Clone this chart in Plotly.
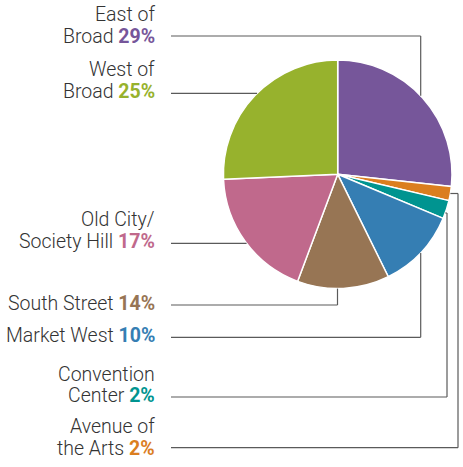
import math
import plotly.graph_objects as go

# ---- data ----
regions = ["East of Broad", "Avenue of the Arts", "Convention Center", "Market West",
           "South Street", "Old City/Society Hill", "West of Broad"]
label_pct = [29, 2, 2, 10, 14, 17, 25]                 # percentages printed in labels
slice_values = [26.7, 2.0, 2.6, 11.4, 13.0, 18.6, 25.7]  # slice sizes as drawn
label_lines = [["East of", "Broad"], ["Avenue of", "the Arts"], ["Convention", "Center"],
               ["Market West"], ["South Street"], ["Old City/", "Society Hill"], ["West of", "Broad"]]
colors = ["#76569A", "#DB7E1F", "#009490", "#357EB3", "#977554", "#C0698C", "#97B22D"]

# ---- layout geometry (pixels) ----
W, H = 463, 467
CX, CY, R = 337.7, 174.3, 114.3
TEXT_RIGHT = 156
LINE_LEFT = 171
FONT = "Roboto, Liberation Sans, Arial, sans-serif"
FS = 19.5
TXT_COLOR = "#333333"
LINE_COLOR = "#5a5a5a"

# per-label: text baselines, leader route
label_baselines = [[21.7, 43.3], [433.3, 455.0], [381.7, 402.7], [342.7], [310.0],
                   [226.7, 248.3], [76.7, 98.3]]
# route kinds: ("v", x_vertical, y_label) ; ("h", y) ; ("e", y_stub, x_elbow, y_label)
routes = [("v", 420.7, 36.0), ("e", 193.5, 458.0, 447.7), ("e", 213.0, 447.0, 397.0),
          ("v", 420.7, 337.3), ("v", 337.5, 305.0), ("h", 243.3), ("h", 93.3)]


def px(x):
    return x / W


def py(y):
    return 1 - y / H


fig = go.Figure(go.Pie(
    labels=regions, values=slice_values, sort=False, direction="clockwise", rotation=0,
    marker=dict(colors=colors, line=dict(color="white", width=1.5)),
    textinfo="none", hoverinfo="label+percent", showlegend=False,
    domain=dict(x=[px(CX - R), px(CX + R)], y=[py(CY + R), py(CY - R)]),
))

shapes = []
annotations = []


def seg(x0, y0, x1, y1):
    shapes.append(dict(type="line", xref="paper", yref="paper", x0=px(x0), y0=py(y0),
                       x1=px(x1), y1=py(y1), line=dict(color=LINE_COLOR, width=1.2)))


for i, rt in enumerate(routes):
    if rt[0] == "v":
        xv, yl = rt[1], rt[2]
        dy = math.sqrt(max(R * R - (xv - CX) ** 2, 0))
        ye = CY - dy if yl < CY else CY + dy
        seg(xv, ye, xv, yl)
        seg(xv, yl, LINE_LEFT, yl)
    elif rt[0] == "h":
        y = rt[1]
        dx = math.sqrt(max(R * R - (y - CY) ** 2, 0))
        seg(LINE_LEFT, y, CX - dx, y)
    else:
        ys, xe, yl = rt[1], rt[2], rt[3]
        dx = math.sqrt(max(R * R - (ys - CY) ** 2, 0))
        seg(CX + dx, ys, xe, ys)
        seg(xe, ys, xe, yl)
        seg(xe, yl, LINE_LEFT, yl)

    lines = label_lines[i]
    bases = label_baselines[i]
    for j, (txt, base) in enumerate(zip(lines, bases)):
        if j == len(lines) - 1:
            txt = f"{txt} <b><span style='color:{colors[i]}'>{label_pct[i]}%</span></b>"
        annotations.append(dict(
            xref="paper", yref="paper", x=px(TEXT_RIGHT), y=py(base - 0.35 * FS),
            xanchor="right", yanchor="middle", text=txt, showarrow=False, align="right",
            font=dict(family=FONT, size=FS, color=TXT_COLOR, weight=300), borderpad=0,
        ))

fig.update_layout(
    width=W, height=H, margin=dict(l=0, r=0, t=0, b=0),
    paper_bgcolor="white", plot_bgcolor="white",
    shapes=shapes, annotations=annotations,
)

fig.write_html("out.html", config={"displayModeBar": False},
               post_script="document.body.style.margin='0';document.body.style.overflow='hidden';")
